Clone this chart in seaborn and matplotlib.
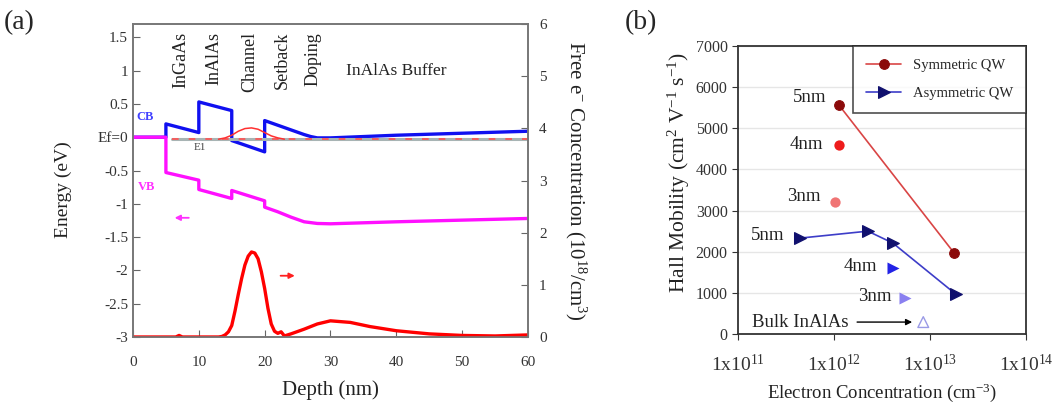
import numpy as np
import pandas as pd
import matplotlib
matplotlib.use("Agg")
import matplotlib.pyplot as plt
import seaborn as sns

# ---------------- data: panel (a) band diagram ----------------
cb_depth = [0, 5, 5, 10, 10, 15, 15, 20, 20, 22, 24, 26, 27, 28, 30, 35, 40, 50, 60]
cb_energy = [0, 0, 0.2, 0.07, 0.53, 0.4, -0.05, -0.22, 0.25, 0.18, 0.11, 0.04, 0.01,
             -0.01, -0.01, 0.01, 0.03, 0.06, 0.09]

vb_depth = [0, 5, 5, 10, 10, 15, 15, 20, 20, 22, 24, 26, 28, 30, 40, 50, 60]
vb_energy = [0, 0, -0.53, -0.645, -0.785, -0.92, -0.8, -0.955, -1.05, -1.12, -1.2,
             -1.27, -1.295, -1.3, -1.27, -1.245, -1.22]

e1_depth = [6, 60]
e1_energy = [-0.03, -0.03]

psi_depth = [13, 14, 15, 16, 17, 18, 19, 20, 21, 22, 23]
psi_energy = [-0.03, -0.01, 0.03, 0.09, 0.13, 0.14, 0.12, 0.07, 0.02, -0.01, -0.03]

n_depth = [0, 6.5, 7, 7.5, 13, 13.5, 14, 14.5, 15, 15.5, 16, 16.5, 17, 17.5, 18,
           18.5, 19, 19.5, 20, 20.5, 21, 21.5, 22, 22.5, 23, 24, 26, 28, 30, 33, 36,
           40, 45, 50, 55, 60]
n_conc = [0, 0, 0.03, 0, 0, 0.01, 0.04, 0.1, 0.22, 0.5, 0.82, 1.12, 1.38, 1.55, 1.63,
          1.61, 1.5, 1.25, 0.93, 0.55, 0.25, 0.11, 0.07, 0.1, 0.02, 0.06, 0.15, 0.25,
          0.31, 0.28, 0.2, 0.12, 0.06, 0.03, 0.02, 0.04]

layer_names = ["InGaAs", "InAlAs", "Channel", "Setback", "Doping"]
layer_centres = [7.2, 12.3, 17.7, 22.6, 27.4]

# ---------------- data: panel (b) Hall mobility ----------------
sym_conc = [1.12e12, 1.78e13]
sym_mob = [5570, 1970]
asym_conc = [4.4e11, 2.25e12, 4.1e12, 1.85e13]
asym_mob = [2330, 2500, 2210, 970]

extra_conc = [1.12e12, 1.02e12, 4.1e12, 5.5e12]
extra_mob = [4600, 3210, 1610, 880]
extra_marker = ["o", "o", ">", ">"]
extra_color = ["#ee1c1c", "#f07474", "#2323e6", "#8a80f0"]

bulk_conc = 8.5e12
bulk_mob = 290

label_pts = [(1.12e12, 5570, "5nm", -9, 5), (1.12e12, 4600, "4nm", -11, 0),
             (1.02e12, 3210, "3nm", -10, 4), (4.4e11, 2330, "5nm", -11, 2),
             (4.1e12, 1610, "4nm", -11, 1), (5.5e12, 880, "3nm", -10, 1)]

# ---------------- style ----------------
sns.set_style("ticks")
plt.rcParams["font.family"] = ["Liberation Serif", "DejaVu Serif"]
plt.rcParams["mathtext.fontset"] = "custom"
plt.rcParams["mathtext.rm"] = "Liberation Serif"
plt.rcParams["mathtext.it"] = "Liberation Serif:italic"
plt.rcParams["axes.unicode_minus"] = False

fig = plt.figure(figsize=(10.53, 4.05), dpi=100)

# ================= panel (a) =================
ax = fig.add_axes([0.1263, 0.1679, 0.3751, 0.7728])
ax2 = ax.twinx()

sns.lineplot(x=cb_depth, y=cb_energy, sort=False, estimator=None, ax=ax,
             color="#1010f0", lw=2.4)
sns.lineplot(x=vb_depth, y=vb_energy, sort=False, estimator=None, ax=ax,
             color="#ff10ff", lw=2.4)
sns.lineplot(x=e1_depth, y=e1_energy, sort=False, estimator=None, ax=ax,
             color="#a8b4b4", lw=2.2)
sns.lineplot(x=e1_depth, y=e1_energy, sort=False, estimator=None, ax=ax,
             color="#ff5050", lw=1.2, linestyle=(0, (4, 6)))
sns.lineplot(x=psi_depth, y=psi_energy, sort=False, estimator=None, ax=ax,
             color="#ff3030", lw=1.1)
sns.lineplot(x=n_depth, y=n_conc, sort=False, estimator=None, ax=ax2,
             color="#ff0000", lw=2.4)

ax.set_xlim(0, 60)
ax.set_ylim(-3, 1.7)
ax2.set_ylim(0, 6)
ax.set_xticks(range(0, 61, 10))
yt = np.arange(-3, 1.51, 0.5)
ax.set_yticks(yt)
ax.set_yticklabels(["Ef=0" if abs(v) < 1e-9 else f"{v:g}" for v in yt])
for lab in ax.get_yticklabels():
    if lab.get_text() == "Ef=0":
        lab.set_fontsize(9)
ax2.set_yticks(range(0, 7))

for a in (ax, ax2):
    a.tick_params(direction="in", length=5, colors="#666666", labelcolor="#333333",
                  labelsize=11)
    for s in a.spines.values():
        s.set_color("#777777")
        s.set_linewidth(1.2)
ax.tick_params(axis="x", pad=14)
ax2.tick_params(axis="y", pad=8)

ax.set_xlabel("Depth (nm)", fontsize=15, color="#222222", labelpad=8)
ax.set_ylabel("Energy (eV)", fontsize=14, color="#222222")
ax.yaxis.set_label_coords(-0.155, 0.47)
ax2.set_ylabel("Free e$^{-}$ Concentration (10$^{18}$/cm$^{3}$)", fontsize=15,
               color="#222222", rotation=270, labelpad=30)

for name, xc in zip(layer_names, layer_centres):
    ax.text(xc, 1.58, name, rotation=90, ha="center", va="top", fontsize=13,
            color="#222222")
ax.text(32.3, 0.99, "InAlAs Buffer", ha="left", va="center", fontsize=12.5,
        color="#222222")
ax.text(0.5, 0.3, "CB", color="#4040ff", fontsize=9, fontweight="bold",
        ha="left", va="center")
ax.text(0.7, -0.75, "VB", color="#ff30ff", fontsize=9, fontweight="bold",
        ha="left", va="center")
ax.text(10.2, -0.15, "E1", color="#444444", fontsize=8, ha="center", va="center")
ax.annotate("", xy=(5.9, -1.21), xytext=(8.9, -1.21),
            arrowprops=dict(arrowstyle="-|>", color="#ff30ff", lw=1.3,
                            mutation_scale=8))
ax.annotate("", xy=(25.0, -2.08), xytext=(22.0, -2.08),
            arrowprops=dict(arrowstyle="-|>", color="#ff2020", lw=1.3,
                            mutation_scale=8))

# ================= panel (b) =================
bx = fig.add_axes([0.7009, 0.1753, 0.2735, 0.7111])
bx.set_xscale("log")
bx.yaxis.grid(True, color="#e6e6e6", lw=1)
bx.set_axisbelow(True)

sns.lineplot(x=sym_conc, y=sym_mob, sort=False, estimator=None, ax=bx,
             color="#d94545", lw=1.2, marker="o", markersize=7,
             markerfacecolor="#8b0a0a", markeredgecolor="#8b0a0a",
             label="Symmetric QW")
sns.lineplot(x=asym_conc, y=asym_mob, sort=False, estimator=None, ax=bx,
             color="#3d3dc8", lw=1.2, marker=">", markersize=9,
             markerfacecolor="#10106e", markeredgecolor="#10106e",
             label="Asymmetric QW")
for xc, yc, mk, col in zip(extra_conc, extra_mob, extra_marker, extra_color):
    sns.scatterplot(x=[xc], y=[yc], ax=bx, marker=mk, s=55 if mk == "o" else 75,
                    color=col, edgecolor=col, linewidth=0)
sns.scatterplot(x=[bulk_conc], y=[bulk_mob], ax=bx, marker="^", s=60,
                facecolor="none", edgecolor="#9a9ae6", linewidth=1.0)

for xc, yc, txt, dx, dy in label_pts:
    bx.annotate(txt, xy=(xc, yc), xytext=(dx, dy), textcoords="offset points",
                ha="right", va="center", fontsize=13.5, color="#222222")
bx.annotate("Bulk InAlAs", xy=(bulk_conc, bulk_mob), xytext=(-54, 0),
            textcoords="offset points", ha="right", va="center", fontsize=13.5,
            color="#222222",
            arrowprops=dict(arrowstyle="-|>", color="black", lw=1.0,
                            shrinkA=4, shrinkB=8, mutation_scale=9))

bx.set_xlim(1e11, 1e14)
bx.set_ylim(0, 7000)
bx.set_yticks(range(0, 7001, 1000))
bx.set_xticks([1e11, 1e12, 1e13, 1e14])
bx.set_xticklabels(["1x10$^{11}$", "1x10$^{12}$", "1x10$^{13}$", "1x10$^{14}$"])
bx.minorticks_off()
bx.tick_params(direction="out", length=4, colors="#333333", labelsize=11.5)
bx.tick_params(axis="x", pad=10, labelsize=14)
for s in bx.spines.values():
    s.set_color("#333333")
    s.set_linewidth(1.3)
bx.set_xlabel("Electron Concentration (cm$^{-3}$)", fontsize=13.5, color="#222222",
              labelpad=5)
bx.set_ylabel("Hall Mobility (cm$^{2}$ V$^{-1}$ s$^{-1}$)", fontsize=15.5,
              color="#222222")
bx.yaxis.set_label_coords(-0.16, 0.56)

leg = bx.legend(loc="upper right", fontsize=10.5, frameon=True, fancybox=False,
                borderaxespad=0, handlelength=2.4, borderpad=0.9, labelspacing=1.0)
leg.get_frame().set_edgecolor("#222222")
leg.get_frame().set_linewidth(1.2)

fig.text(0.004, 0.945, "(a)", fontsize=20, ha="left", va="center")
fig.text(0.593, 0.945, "(b)", fontsize=20, ha="left", va="center")

fig.savefig("out.png", dpi=100)
